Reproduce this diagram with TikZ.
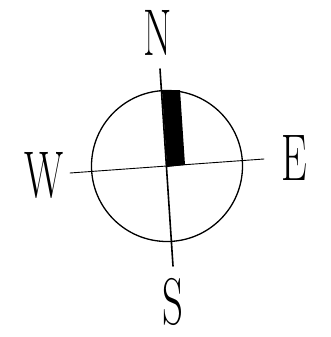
\documentclass[tikz,border=0pt]{standalone}
\usepackage{tikz}
\tikzset{cardinal/.style={font=\fontsize{66}{66}\selectfont, xscale=0.62, inner sep=0pt}}

\begin{document}
\begin{tikzpicture}[line cap=round,line join=round,x=1pt,y=-1pt]
		\useasboundingbox (0,0) rectangle (330,337);
		% points cardinaux
		\node[cardinal] (nord) at (158,33) {N};
		\node[cardinal] (sud) at (173,302) {S};
		\node[cardinal] (ouest) at (44,175) {W};
		\node[cardinal] (est) at (294,158) {E};
		% axes
		\coordinate (hautaxe) at (160,69);
		\coordinate (basaxe) at (173,266);
		\coordinate (gaucheaxe) at (70,173);
		\coordinate (droiteaxe) at (264,159);
		\coordinate (centre) at (167,166);
		% cercle
		\draw[line width=1.3pt] (centre) circle (75.5);
		\draw[line width=1.6pt] (hautaxe)--(basaxe);
		\draw[line width=0.9pt] (gaucheaxe)--(droiteaxe);
		%aiguille
		\fill (162,90)--(180,90)--(185,165)--(167,167)--cycle;
\end{tikzpicture}
\end{document}
